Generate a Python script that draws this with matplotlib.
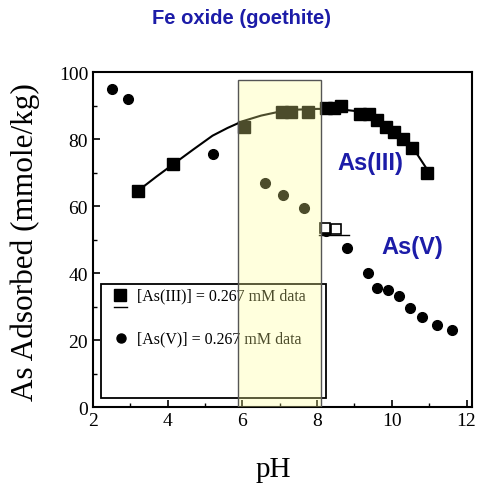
import matplotlib
matplotlib.use("Agg")
import matplotlib.pyplot as plt
from matplotlib.patches import Rectangle
from matplotlib.ticker import MultipleLocator

#----------------------------------------
#--------data--------
#----------------------------------------
ph_as3 = [3.2, 4.15, 6.05, 7.05, 7.3, 7.75, 8.25, 8.45, 8.65, 9.15, 9.4, 9.6, 9.85, 10.05, 10.3, 10.55, 10.95]
ads_as3 = [64.5, 72.5, 83.5, 88.0, 88.0, 88.0, 89.3, 89.3, 89.8, 87.5, 87.5, 85.8, 83.5, 82.0, 80.0, 77.3, 70.0]

ph_as5 = [2.5, 2.95, 5.2, 6.6, 7.1, 7.65, 8.25, 8.8, 9.35, 9.6, 9.9, 10.2, 10.5, 10.8, 11.2, 11.6]
ads_as5 = [95.0, 92.0, 75.5, 67.0, 63.2, 59.3, 52.5, 47.5, 40.0, 35.5, 35.0, 33.0, 29.5, 27.0, 24.5, 23.0]

# open squares near pH 8.3
ph_open = [8.2, 8.5]
ads_open = [53.5, 53.2]

# model curve for As(III)
ph_fit = [3.2, 3.7, 4.15, 4.7, 5.2, 5.6, 6.0, 6.5, 7.0, 7.5, 8.0, 8.5, 9.0, 9.5, 10.0, 10.5, 11.0]
ads_fit = [64.5, 68.8, 72.5, 77.0, 81.0, 83.3, 85.3, 87.0, 88.2, 88.8, 89.0, 89.0, 88.4, 86.8, 83.5, 78.5, 70.0]

# short line under the As(V) open squares
ph_v_line = [8.05, 8.85]
ads_v_line = [51.5, 51.5]

blue = "#1c1ca8"
serif = "Liberation Serif"
sans = "Liberation Sans"

fig = plt.figure(figsize=(4.83, 4.89), dpi=100)
ax = fig.add_axes([0.1925, 0.1656, 0.785, 0.685])

ax.plot(ph_fit, ads_fit, color="black", lw=1.5, zorder=2)
ax.plot(ph_v_line, ads_v_line, color="black", lw=1.0, zorder=2)
ax.plot(ph_as3, ads_as3, "s", color="black", ms=8.5, zorder=3)
ax.plot(ph_as5, ads_as5, "o", color="black", ms=7, zorder=3)
ax.plot(ph_open, ads_open, "s", mfc="white", mec="black", ms=7, mew=1.2, zorder=3)

# legend box drawn by hand
ax.add_patch(Rectangle((2.22, 2.7), 6.02, 34.0, fill=False, ec="black", lw=1.3, zorder=4))
ax.plot([2.72], [33.3], "s", color="black", ms=8, zorder=5)
ax.plot([2.55, 2.9], [30.0, 30.0], color="black", lw=1.0, zorder=5)
ax.plot([2.75], [20.5], "o", color="black", ms=6.5, zorder=5)
ax.text(3.18, 33.3, "[As(III)] = 0.267 mM data", fontsize=11.5, family=serif, va="center", zorder=5)
ax.text(3.18, 20.5, "[As(V)] = 0.267 mM data", fontsize=11.5, family=serif, va="center", zorder=5)

# highlighted pH window
ax.add_patch(Rectangle((5.87, 0), 2.23, 97.5, fc="#ffff90", alpha=0.3, ec="none", zorder=6))
ax.add_patch(Rectangle((5.87, 0), 2.23, 97.5, fill=False, ec="#555555", lw=1.0, zorder=6))

ax.text(9.43, 73, "As(III)", color=blue, fontsize=17, fontweight="bold", family=sans, ha="center", va="center")
ax.text(10.56, 48, "As(V)", color=blue, fontsize=17, fontweight="bold", family=sans, ha="center", va="center")

ax.set_xlim(2, 12.15)
ax.set_ylim(0, 100)
ax.xaxis.set_major_locator(MultipleLocator(2))
ax.xaxis.set_minor_locator(MultipleLocator(1))
ax.yaxis.set_major_locator(MultipleLocator(20))
ax.yaxis.set_minor_locator(MultipleLocator(10))
ax.tick_params(which="both", direction="in", top=False, right=False, labelsize=14)
ax.tick_params(which="major", length=5, width=1.2)
ax.tick_params(which="minor", length=3, width=1.0)
for lab in ax.get_xticklabels() + ax.get_yticklabels():
    lab.set_family(serif)
for s in ax.spines.values():
    s.set_linewidth(1.5)

ax.set_xlabel("pH", fontsize=21, family=serif)
ax.xaxis.set_label_coords(0.475, -0.145)
ax.set_ylabel("As Adsorbed (mmole/kg)", fontsize=22.5, family=serif)
ax.yaxis.set_label_coords(-0.14, 0.495)
fig.text(0.5, 0.963, "Fe oxide (goethite)", color=blue, fontsize=14.5, fontweight="bold", family=sans, ha="center", va="center")

fig.savefig("out.png", dpi=100)
